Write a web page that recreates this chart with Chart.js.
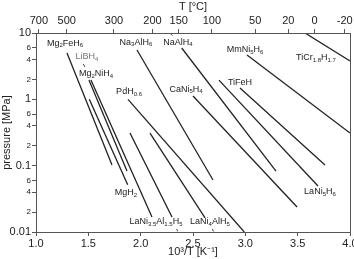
<!DOCTYPE html>
<html>
<head>
<meta charset="utf-8">
<script src="https://cdn.jsdelivr.net/npm/chart.js@4"></script>
<style>
  body { margin: 0; background: #fff; }
  canvas { display: block; }
</style>
</head>
<body>
<canvas id="vanthoff" width="354" height="259"></canvas>
<script>
// hydride names, "_" marks a subscript, {} groups it
const hydrides = ["Mg_2FeH_6", "LiBH_4", "Mg_2NiH_4", "MgH_2", "PdH_{0.6}", "LaNi_{3.5}Al_{1.5}H_5",
  "LaNi_4AlH_5", "Na_3AlH_6", "NaAlH_4", "CaNi_5H_4", "LaNi_5H_6", "TiFeH", "MmNi_5H_6", "TiCr_{1.8}H_{1.7}"];

// line ends: 1000/T [1/K] and pressure [MPa]
const xStart = [1.296, 1.506, 1.525, 1.509, 1.879, 1.898, 2.089, 1.965, 2.392, 2.50, 2.748, 2.949, 3.016, 3.57];
const pStart = [4.99, 1.95, 1.95, 1.00, 1.00, 0.31, 0.31, 5.55, 5.94, 1.12, 1.95, 1.48, 4.66, 10.0];
const xEnd   = [1.726, 1.869, 2.108, 1.876, 2.99, 2.299, 2.615, 2.691, 3.293, 3.494, 3.694, 3.761, 4.0, 4.0];
const pEnd   = [0.102, 0.083, 0.0168, 0.0516, 0.010, 0.0168, 0.0163, 0.0608, 0.083, 0.0238, 0.0493, 0.102, 0.31, 3.78];

// where each name sits
const labelX = [1.277, 1.487, 1.573, 1.86, 1.889, 2.146, 2.662, 1.955, 2.357, 2.433, 3.713, 2.949, 2.997, 3.675];
const labelP = [7.06, 4.35, 2.41, 0.0387, 1.29, 0.0142, 0.0142, 7.31, 7.31, 1.43, 0.0401, 1.82, 5.55, 4.2];

// short pointer strokes next to some names
const leadX1 = [1.452, 2.280, 2.344, 2.686];
const leadP1 = [3.41, 9.93, 0.0111, 0.0111];
const leadX2 = [1.468, 2.302, 2.353, 2.696];
const leadP2 = [3.07, 9.17, 0.0102, 0.0102];

const tempC = [700, 500, 300, 200, 150, 100, 50, 20, 0, -20];
const pTicks = [0.01, 0.02, 0.04, 0.06, 0.1, 0.2, 0.4, 0.6, 1, 2, 4, 6, 10];
const xTicks = [1.0, 1.5, 2.0, 2.5, 3.0, 3.5, 4.0];

const ink = "#222";
Chart.defaults.font.family = "'Liberation Sans', Arial, sans-serif";
Chart.defaults.color = ink;

function isDecade(v) {
  return Math.abs(Math.log10(v) - Math.round(Math.log10(v))) < 1e-6;
}

// draw "Mg_2FeH_6" style text with small subscripts, centred at x
function drawFormula(ctx, text, x, y, size, color) {
  const parts = [];
  let i = 0;
  while (i < text.length) {
    if (text[i] === "_") {
      let sub;
      if (text[i + 1] === "{") {
        const j = text.indexOf("}", i);
        sub = text.slice(i + 2, j);
        i = j + 1;
      } else {
        sub = text[i + 1];
        i += 2;
      }
      parts.push({ t: sub, sub: true });
    } else {
      let j = i;
      while (j < text.length && text[j] !== "_") j++;
      parts.push({ t: text.slice(i, j), sub: false });
      i = j;
    }
  }
  const big = size + "px 'Liberation Sans', Arial, sans-serif";
  const small = Math.round(size * 0.72) + "px 'Liberation Sans', Arial, sans-serif";
  let w = 0;
  parts.forEach(p => { ctx.font = p.sub ? small : big; p.w = ctx.measureText(p.t).width; w += p.w; });
  let cx = x - w / 2;
  ctx.fillStyle = color;
  ctx.textAlign = "left";
  ctx.textBaseline = "middle";
  parts.forEach(p => {
    ctx.font = p.sub ? small : big;
    ctx.fillText(p.t, cx, p.sub ? y + size * 0.3 : y);
    cx += p.w;
  });
}

const namesPlugin = {
  id: "names",
  afterDatasetsDraw(chart) {
    const ctx = chart.ctx;
    const xs = chart.scales.x, ys = chart.scales.y;
    ctx.save();
    hydrides.forEach((name, i) => {
      const color = name === "LiBH_4" ? "#777" : ink;
      drawFormula(ctx, name, xs.getPixelForValue(labelX[i]), ys.getPixelForValue(labelP[i]), 9, color);
    });
    ctx.restore();
  }
};

const framePlugin = {
  id: "frame",
  afterDraw(chart) {
    const a = chart.chartArea, ctx = chart.ctx;
    ctx.save();
    ctx.strokeStyle = "#555";
    ctx.lineWidth = 1;
    ctx.strokeRect(Math.round(a.left) + 0.5, Math.round(a.top) + 0.5,
      Math.round(a.right - a.left), Math.round(a.bottom - a.top));
    ctx.restore();
  }
};

const datasets = hydrides.map((name, i) => ({
  label: name,
  data: [{ x: xStart[i], y: pStart[i] }, { x: xEnd[i], y: pEnd[i] }],
  borderColor: ink,
  borderWidth: 1.3,
  pointRadius: 0,
  fill: false
}));

leadX1.forEach((x, i) => datasets.push({
  label: "lead" + i,
  data: [{ x: x, y: leadP1[i] }, { x: leadX2[i], y: leadP2[i] }],
  borderColor: "#444",
  borderWidth: 1,
  pointRadius: 0,
  fill: false
}));

const axisGrid = { drawOnChartArea: false, drawTicks: true, tickLength: 4, color: "#555" };
const axisBorder = { display: true, color: "#555", width: 1 };

new Chart(document.getElementById("vanthoff"), {
  type: "line",
  data: { datasets },
  options: {
    responsive: false,
    animation: false,
    devicePixelRatio: 1,
    layout: { padding: { right: 4, left: 0, top: 0, bottom: 0 } },
    plugins: { legend: { display: false }, tooltip: { enabled: false } },
    scales: {
      x: {
        type: "linear", position: "bottom", min: 1, max: 4,
        grid: axisGrid, border: axisBorder,
        afterBuildTicks: s => { s.ticks = xTicks.map(v => ({ value: v })); },
        ticks: { callback: v => v.toFixed(1), font: { size: 11 }, padding: 1, maxRotation: 0, autoSkip: false },
        title: { display: true, text: "10³/T [K⁻¹]", font: { size: 11 }, padding: 0 },
        afterFit: s => { s.height = 27; s.paddingRight = 0; s.paddingLeft = 0; }
      },
      x2: {
        type: "linear", position: "top", min: 1, max: 4,
        grid: axisGrid, border: axisBorder,
        afterBuildTicks: s => { s.ticks = tempC.map(t => ({ value: 1000 / (t + 273.15) })); },
        ticks: { callback: (v, i) => String(tempC[i]), font: { size: 11 }, padding: 1, maxRotation: 0, autoSkip: false },
        title: { display: true, text: "T [°C]", font: { size: 11 }, padding: 0 },
        afterFit: s => { s.height = 33; s.paddingRight = 0; s.paddingLeft = 0; }
      },
      y: {
        type: "logarithmic", min: 0.01, max: 10,
        grid: axisGrid, border: axisBorder,
        afterBuildTicks: s => { s.ticks = pTicks.map(v => ({ value: v })); },
        ticks: {
          autoSkip: false, padding: 1,
          callback: v => isDecade(v) ? String(v) : String(Math.round(v / Math.pow(10, Math.floor(Math.log10(v) + 1e-9)))),
          font: c => ({ size: c.tick && isDecade(c.tick.value) ? 11 : 8 })
        },
        title: { display: true, text: "pressure [MPa]", font: { size: 11 }, padding: 0 },
        afterFit: s => { s.width = 36; }
      }
    }
  },
  plugins: [namesPlugin, framePlugin]
});
</script>
</body>
</html>
